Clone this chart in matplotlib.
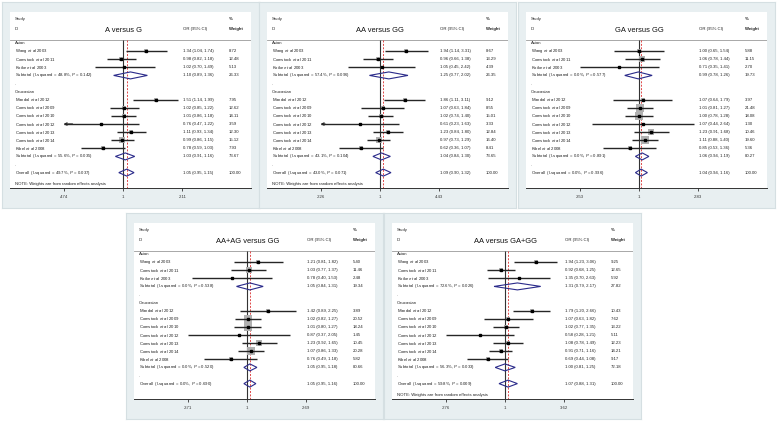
import numpy as np
import matplotlib.pyplot as plt

plt.rcParams['font.family'] = 'Liberation Sans'
plt.rcParams['mathtext.fontset'] = 'custom'
plt.rcParams['mathtext.rm'] = 'Liberation Sans'
plt.rcParams['mathtext.it'] = 'Liberation Sans:italic'

W, H = 778, 421

# studies: 3 Asian then 7 Caucasian
authors = ["Wang", "Comstock", "Koike",
           "Mandal", "Comstock", "Comstock", "Comstock", "Comstock", "Comstock", "Kibel"]
years = [2003, 2011, 2003, 2012, 2009, 2010, 2012, 2013, 2014, 2008]
groups = ["Asian", "Caucasian"]

# A versus G
ag_or = [1.34, 0.98, 1.02, 1.51, 1.02, 1.01, 0.76, 1.11, 0.99, 0.78]
ag_lo = [1.04, 0.82, 0.70, 1.14, 0.85, 0.86, 0.47, 0.93, 0.86, 0.59]
ag_hi = [1.74, 1.18, 1.49, 1.99, 1.22, 1.18, 1.22, 1.34, 1.15, 1.03]
ag_w = [8.72, 12.48, 5.13, 7.95, 12.62, 14.11, 3.59, 12.30, 15.12, 7.93]
ag_sub_or = [1.10, 1.03, 1.05]
ag_sub_lo = [0.89, 0.91, 0.95]
ag_sub_hi = [1.36, 1.16, 1.15]
ag_sub_w = [26.33, 73.67, 100.00]
ag_i2 = [48.8, 55.6, 49.7]
ag_p = [0.142, 0.035, 0.037]
ag_ticks = [0.474, 1, 2.11]

# AA versus GG
aagg_or = [1.94, 0.96, 1.05, 1.86, 1.07, 1.02, 0.61, 1.23, 0.97, 0.62]
aagg_lo = [1.14, 0.66, 0.45, 1.11, 0.63, 0.74, 0.225, 0.84, 0.73, 0.36]
aagg_hi = [3.31, 1.38, 2.42, 3.11, 1.84, 1.40, 1.63, 1.80, 1.29, 1.07]
aagg_w = [8.67, 13.29, 4.39, 9.12, 8.55, 15.01, 3.33, 12.84, 16.40, 8.41]
aagg_sub_or = [1.25, 1.04, 1.09]
aagg_sub_lo = [0.77, 0.84, 0.90]
aagg_sub_hi = [2.02, 1.30, 1.32]
aagg_sub_w = [26.35, 73.65, 100.00]
aagg_i2 = [57.4, 43.1, 43.0]
aagg_p = [0.096, 0.104, 0.071]
aagg_ticks = [0.226, 1, 4.43]

# GA versus GG
gagg_or = [1.00, 1.06, 0.71, 1.07, 1.01, 1.00, 1.07, 1.23, 1.11, 0.85]
gagg_lo = [0.65, 0.78, 0.353, 0.64, 0.81, 0.78, 0.44, 0.91, 0.88, 0.53]
gagg_hi = [1.54, 1.44, 1.41, 1.79, 1.27, 1.28, 2.64, 1.68, 1.40, 1.36]
gagg_w = [5.88, 11.15, 2.70, 3.97, 21.48, 18.08, 1.30, 10.46, 19.60, 5.36]
gagg_sub_or = [0.99, 1.06, 1.04]
gagg_sub_lo = [0.78, 0.94, 0.94]
gagg_sub_hi = [1.26, 1.19, 1.16]
gagg_sub_w = [19.73, 80.27, 100.00]
gagg_i2 = [0.0, 0.0, 0.0]
gagg_p = [0.577, 0.891, 0.936]
gagg_ticks = [0.353, 1, 2.83]

# AA+AG versus GG
dom_or = [1.21, 1.03, 0.78, 1.42, 1.02, 1.01, 0.87, 1.23, 1.07, 0.76]
dom_lo = [0.81, 0.77, 0.40, 0.89, 0.82, 0.80, 0.371, 0.92, 0.86, 0.49]
dom_hi = [1.82, 1.37, 1.53, 2.25, 1.27, 1.27, 2.05, 1.65, 1.33, 1.18]
dom_w = [5.40, 11.46, 2.48, 3.89, 20.52, 18.24, 1.45, 10.45, 20.28, 5.82]
dom_sub_or = [1.05, 1.05, 1.05]
dom_sub_lo = [0.84, 0.95, 0.95]
dom_sub_hi = [1.31, 1.18, 1.16]
dom_sub_w = [19.34, 80.66, 100.00]
dom_i2 = [0.0, 0.0, 0.0]
dom_p = [0.538, 0.520, 0.690]
dom_ticks = [0.371, 1, 2.69]

# AA versus GA+GG
rec_or = [1.94, 0.92, 1.35, 1.79, 1.07, 1.02, 0.58, 1.08, 0.91, 0.69]
rec_lo = [1.23, 0.68, 0.70, 1.20, 0.63, 0.77, 0.276, 0.78, 0.71, 0.44]
rec_hi = [3.06, 1.25, 2.63, 2.66, 1.82, 1.35, 1.21, 1.49, 1.16, 1.08]
rec_w = [9.25, 12.65, 5.92, 10.43, 7.62, 13.22, 5.11, 12.23, 14.21, 9.17]
rec_sub_or = [1.31, 1.00, 1.07]
rec_sub_lo = [0.79, 0.81, 0.88]
rec_sub_hi = [2.17, 1.25, 1.31]
rec_sub_w = [27.82, 72.18, 100.00]
rec_i2 = [72.6, 56.3, 59.8]
rec_p = [0.026, 0.033, 0.009]
rec_ticks = [0.276, 1, 3.62]

study_rows = [2, 3, 4, 8, 9, 10, 11, 12, 13, 14]
group_rows = [1, 7]
sub_rows = [5, 15, 17]
dot_rows = [6, 16]

FS = 3.1
TXT = '#222222'
LINE = '#262626'


def ci_text(e, l, h):
    return f"{e:.2f} ({l:.2f}, {h:.2f})"


def tick_fmt(v):
    s = f"{v:g}"
    return s[1:] if s.startswith("0.") else s


def panel(gx, gy, title, est, lo, hi, wt, s_est, s_lo, s_hi, s_wt, i2, pv,
          ticks, box_k, note=True):
    bg = fig.add_axes([gx / W, 1 - (gy + 206) / H, 257 / W, 206 / H])
    bg.set_facecolor('#e8eff1')
    bg.set_xticks([])
    bg.set_yticks([])
    for sp in bg.spines.values():
        sp.set_color('#d5dfe2')
        sp.set_linewidth(0.8)

    ax = fig.add_axes([(gx + 8) / W, 1 - (gy + 10 + 176) / H, 241 / W, 176 / H])
    ax.set_facecolor('white')
    ax.set_xscale('log')
    ax.set_autoscale_on(False)
    t0, t1 = np.log(ticks[0]), np.log(ticks[-1])
    f0, f1 = 0.222, 0.715
    span = (t1 - t0) / (f1 - f0)
    ax.set_xlim(np.exp(t0 - f0 * span), np.exp(t0 + (1 - f0) * span))
    ax.set_ylim(18.9, -2.83)
    for s in ['top', 'left', 'right']:
        ax.spines[s].set_visible(False)
    ax.spines['bottom'].set_linewidth(0.7)
    ax.spines['bottom'].set_color('#333333')
    ax.set_yticks([])
    ax.set_xticks(ticks)
    ax.set_xticklabels([tick_fmt(t) for t in ticks])
    ax.minorticks_off()
    ax.tick_params(axis='x', labelsize=FS, length=2, width=0.6, pad=3,
                   colors='#333333')

    tr = ax.get_yaxis_transform()
    # header
    ax.text(0.02, -1.96, "Study", transform=tr, fontsize=FS, va='center', color=TXT)
    ax.text(0.02, -0.73, "ID", transform=tr, fontsize=FS, va='center', color=TXT)
    ax.text(0.47, -0.55, title, transform=tr, fontsize=5.4, va='center',
            ha='center', color='#111111')
    ax.text(0.718, -0.73, "OR (95% CI)", transform=tr, fontsize=FS, va='center', color=TXT)
    ax.text(0.909, -1.96, "%", transform=tr, fontsize=FS, va='center',
            color=TXT, fontweight='bold')
    ax.text(0.909, -0.73, "Weight", transform=tr, fontsize=FS, va='center',
            color=TXT, fontweight='bold')
    ax.axhline(0.63, color='#9a9a9a', lw=0.6)

    # reference lines: no effect (1) and overall estimate
    ax.vlines(1, 0.63, 18.9, color='#333333', lw=0.8, zorder=2)
    ax.vlines(s_est[2], 0.63, 18.9, color='#e04848', lw=0.7,
              linestyles=[(0, (2, 1.5))], zorder=2)

    for g, r in zip(groups, group_rows):
        ax.text(0.02, r, g, transform=tr, fontsize=FS, va='center', color=TXT)
    for r in dot_rows:
        ax.text(0.02, r, ".", transform=tr, fontsize=FS, va='center', color=TXT)

    # studies
    for a, yr, e, l, h, w, r in zip(authors, years, est, lo, hi, wt, study_rows):
        ax.text(0.02, r, rf"{a} $et\ al$ {yr}", transform=tr, fontsize=FS,
                va='center', color=TXT)
        ax.text(0.718, r, ci_text(e, l, h), transform=tr, fontsize=FS,
                va='center', color=TXT)
        ax.text(0.909, r, f"{w:.2f}", transform=tr, fontsize=FS,
                va='center', color=TXT)
        ax.scatter([e], [r], s=(box_k * np.sqrt(w) * 0.72) ** 2, marker='s',
                   color='#b0b0b0', lw=0, zorder=3)
        if l < ticks[0]:
            ax.hlines(r, ticks[0], h, color=LINE, lw=1.0, zorder=4)
            ax.annotate('', xy=(ticks[0], r), xytext=(ticks[0] * 1.12, r),
                        arrowprops=dict(arrowstyle='->', lw=0.9, color=LINE,
                                        mutation_scale=4, shrinkA=0, shrinkB=0),
                        zorder=4)
        else:
            ax.hlines(r, l, h, color=LINE, lw=1.0, zorder=4)
        ax.plot([e], [r], marker='s', ms=1.6, color='black', zorder=5)

    # subtotals and overall
    names = ["Subtotal", "Subtotal", "Overall"]
    for n, e, l, h, w, q, p, r in zip(names, s_est, s_lo, s_hi, s_wt, i2, pv, sub_rows):
        ax.text(0.02, r, rf"{n}  (I-squared = {q:.1f}%, $P$ = {p:.3f})",
                transform=tr, fontsize=FS, va='center', color=TXT)
        ax.text(0.718, r, ci_text(e, l, h), transform=tr, fontsize=FS,
                va='center', color=TXT)
        ax.text(0.909, r, f"{w:.2f}", transform=tr, fontsize=FS,
                va='center', color=TXT)
        ax.fill([l, e, h, e], [r, r - 0.43, r, r + 0.43], facecolor='none',
                edgecolor='#2a2a8a', lw=0.8, zorder=5)
    if note:
        ax.text(0.02, 18.35, "NOTE: Weights are from random effects analysis",
                transform=tr, fontsize=FS, va='center', color=TXT)
    return ax


fig = plt.figure(figsize=(W / 100, H / 100), dpi=100)
fig.patch.set_facecolor('white')

panel(2, 2, "A versus G", ag_or, ag_lo, ag_hi, ag_w, ag_sub_or, ag_sub_lo,
      ag_sub_hi, ag_sub_w, ag_i2, ag_p, ag_ticks, 1.3)
panel(259, 2, "AA versus GG", aagg_or, aagg_lo, aagg_hi, aagg_w, aagg_sub_or,
      aagg_sub_lo, aagg_sub_hi, aagg_sub_w, aagg_i2, aagg_p, aagg_ticks, 1.25)
panel(518, 2, "GA versus GG", gagg_or, gagg_lo, gagg_hi, gagg_w, gagg_sub_or,
      gagg_sub_lo, gagg_sub_hi, gagg_sub_w, gagg_i2, gagg_p, gagg_ticks, 1.75,
      note=False)
panel(126, 213, "AA+AG versus GG", dom_or, dom_lo, dom_hi, dom_w, dom_sub_or,
      dom_sub_lo, dom_sub_hi, dom_sub_w, dom_i2, dom_p, dom_ticks, 1.75,
      note=False)
panel(384, 213, "AA versus GA+GG", rec_or, rec_lo, rec_hi, rec_w, rec_sub_or,
      rec_sub_lo, rec_sub_hi, rec_sub_w, rec_i2, rec_p, rec_ticks, 1.2)

fig.savefig("out.png", dpi=100)
